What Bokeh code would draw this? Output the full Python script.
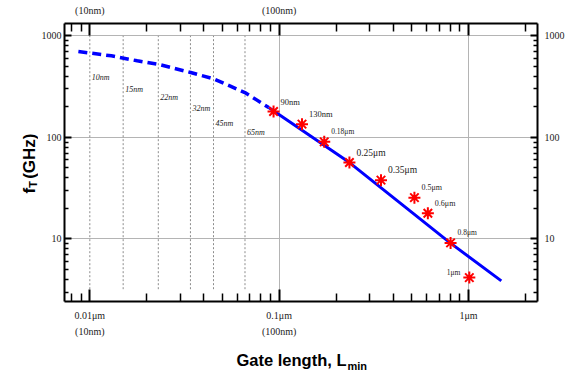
from bokeh.plotting import figure
from bokeh.layouts import column, row
from bokeh.models import LogAxis, FixedTicker, ColumnDataSource, PrintfTickFormatter
from bokeh.core.properties import value
from bokeh.embed import file_html
from bokeh.resources import INLINE
import math

# ---------------- data ----------------
node_names = ["10nm", "15nm", "22nm", "32nm", "45nm", "65nm"]
node_x = [0.010, 0.015, 0.023, 0.034, 0.045, 0.066]

proj_x = [0.0087, 0.013, 0.0178, 0.0237, 0.0341, 0.0451, 0.0659, 0.088]
proj_y = [700, 635, 567, 518, 435, 377, 276, 197]

fit_x = [0.088, 0.235, 0.80, 1.49]
fit_y = [197, 56.5, 9.14, 3.86]

meas_names = ["90nm", "130nm", "0.18μm", "0.25μm", "0.35μm", "0.5μm", "0.6μm", "0.8μm", "1μm"]
meas_x = [0.0934, 0.132, 0.173, 0.235, 0.345, 0.518, 0.61, 0.804, 1.01]
meas_y = [179.5, 135, 90.3, 56.5, 37.9, 25.5, 17.9, 9.14, 4.16]

x_ticks = [0.01, 0.1, 1]
x_labels_bottom = ["0.01μm\n(10nm)", "0.1μm\n(100nm)", "1μm"]
x_labels_top = ["(10nm)", "(100nm)", ""]
y_ticks = [10, 100, 1000]
y_labels = ["10", "100", "1000"]

x_title = "Gate length, L"
x_title_sub = "min"
y_title = "f"
y_title_sub = "T"
y_title_unit = "(GHz)"

# ---------------- layout / style ----------------
node_label_y = [386, 294, 245, 191, 136, 111]
node_y0, node_y1 = 3.2, 1000
x_minor = [m * 10.0 ** e for e in (-3, -2, -1, 0) for m in range(2, 10)]
y_minor = [m * 10.0 ** e for e in (0, 1, 2, 3) for m in range(2, 10)]

SERIF = "Liberation Serif"
SANS = "Liberation Sans"
TXT = "#222222"

YLAB_W = 38
MAIN_W, MAIN_H = 538, 340
XLAB_H = 30

p = figure(width=MAIN_W, height=MAIN_H, x_axis_type="log", y_axis_type="log",
           x_range=(0.00735, 2.314), y_range=(2.42, 1322),
           output_backend="svg", toolbar_location=None,
           min_border_left=26, min_border_right=39, min_border_top=23, min_border_bottom=39,
           x_axis_location=None, y_axis_location=None)
p.outline_line_color = None
p.background_fill_color = "white"
p.border_fill_color = "white"


def style_axis(ax, major_in, minor_in):
    ax.axis_line_width = 2
    ax.axis_line_color = "black"
    ax.major_tick_in = major_in
    ax.major_tick_out = 0
    ax.minor_tick_in = minor_in
    ax.minor_tick_out = 0
    ax.major_tick_line_width = 2
    ax.minor_tick_line_width = 1.5
    ax.major_tick_line_color = "black"
    ax.minor_tick_line_color = "black"
    ax.major_label_text_font = SERIF
    ax.major_label_text_font_size = "10px"
    ax.major_label_text_color = TXT


xt = FixedTicker(ticks=x_ticks, minor_ticks=x_minor)
yt = FixedTicker(ticks=y_ticks, minor_ticks=y_minor)

bottom = LogAxis(ticker=xt)
style_axis(bottom, 12, 8)
bottom.major_label_overrides = dict(zip(x_ticks, x_labels_bottom))
bottom.major_label_standoff = 8
bottom.major_label_text_line_height = 1.5
p.add_layout(bottom, "below")

top = LogAxis(ticker=xt)
style_axis(top, 12, 8)
top.major_label_overrides = dict(zip(x_ticks, x_labels_top))
top.major_label_standoff = 8
p.add_layout(top, "above")

left = LogAxis(ticker=yt, formatter=PrintfTickFormatter(format="%d"))
style_axis(left, 7, 4)
left.major_label_overrides = dict(zip(y_ticks, y_labels))
left.major_label_standoff = 3
p.add_layout(left, "left")

right = LogAxis(ticker=yt, formatter=PrintfTickFormatter(format="%d"))
style_axis(right, 7, 4)
right.major_label_overrides = dict(zip(y_ticks, y_labels))
right.major_label_standoff = 7
p.add_layout(right, "right")

# grids
p.xgrid.ticker = FixedTicker(ticks=[0.1, 1])
p.ygrid.ticker = FixedTicker(ticks=y_ticks)
for g in (p.xgrid, p.ygrid):
    g.grid_line_color = "#b4b4b4"
    g.grid_line_width = 1

# technology node reference lines
p.segment(x0=node_x, y0=node_y0, x1=node_x, y1=node_y1,
          line_color="#8c8c8c", line_width=1, line_dash="2 2")
p.text(x=node_x, y=node_label_y, text=node_names, x_offset=2,
       text_font=value(SERIF), text_font_size="8px", text_font_style="italic",
       text_color=TXT, text_align="left", text_baseline="middle")

# projected (dashed) and fitted (solid) curves
p.line(proj_x, proj_y, line_color="#0000ff", line_width=3.5, line_dash="9 5")
p.line(fit_x, fit_y, line_color="#0000ff", line_width=3)

# measured points
src = ColumnDataSource(dict(x=meas_x, y=meas_y, name=meas_names))
p.scatter("x", "y", source=src, marker="asterisk", size=12,
          line_color="#ff0000", line_width=2)

lab_sizes = ["8.5px", "8.5px", "7.5px", "9.5px", "9.5px", "8px", "8px", "7.5px"]
p.text(x=meas_x[:-1], y=meas_y[:-1], text=meas_names[:-1], x_offset=7, y_offset=-10,
       text_font=value(SERIF), text_font_size=lab_sizes,
       text_color=TXT, text_align="left", text_baseline="middle")
p.text(x=meas_x[-1:], y=meas_y[-1:], text=meas_names[-1:], x_offset=-9, y_offset=-5,
       text_font=value(SERIF), text_font_size="7.5px",
       text_color=TXT, text_align="right", text_baseline="middle")


# ---------------- axis titles in side panels ----------------
def blank(w, h):
    f = figure(width=w, height=h, x_range=(0, w), y_range=(0, h),
               output_backend="svg", toolbar_location=None,
               min_border=0, min_border_left=0, min_border_right=0,
               min_border_top=0, min_border_bottom=0)
    f.axis.visible = False
    f.grid.visible = False
    f.outline_line_color = None
    f.background_fill_color = "white"
    f.border_fill_color = "white"
    return f


def title_text(f, x, y, txt, size, angle=0.0):
    f.text(x=[x], y=[y], text=[txt], angle=angle,
           text_font=value(SANS), text_font_style="bold", text_font_size=size,
           text_color="black", text_align="left", text_baseline="alphabetic")


ylab = blank(YLAB_W, MAIN_H)
title_text(ylab, 29, MAIN_H - 208, y_title, "17px", math.pi / 2)
title_text(ylab, 32.5, MAIN_H - 201, y_title_sub, "11px", math.pi / 2)
title_text(ylab, 29, MAIN_H - 190, y_title_unit, "17px", math.pi / 2)

xlab = blank(YLAB_W + MAIN_W, XLAB_H)
title_text(xlab, 236, 11, x_title, "16.5px")
title_text(xlab, 347, 5, x_title_sub, "11px")

layout = column(row(ylab, p), xlab)

open("out.html", "w").write(file_html(layout, INLINE))
